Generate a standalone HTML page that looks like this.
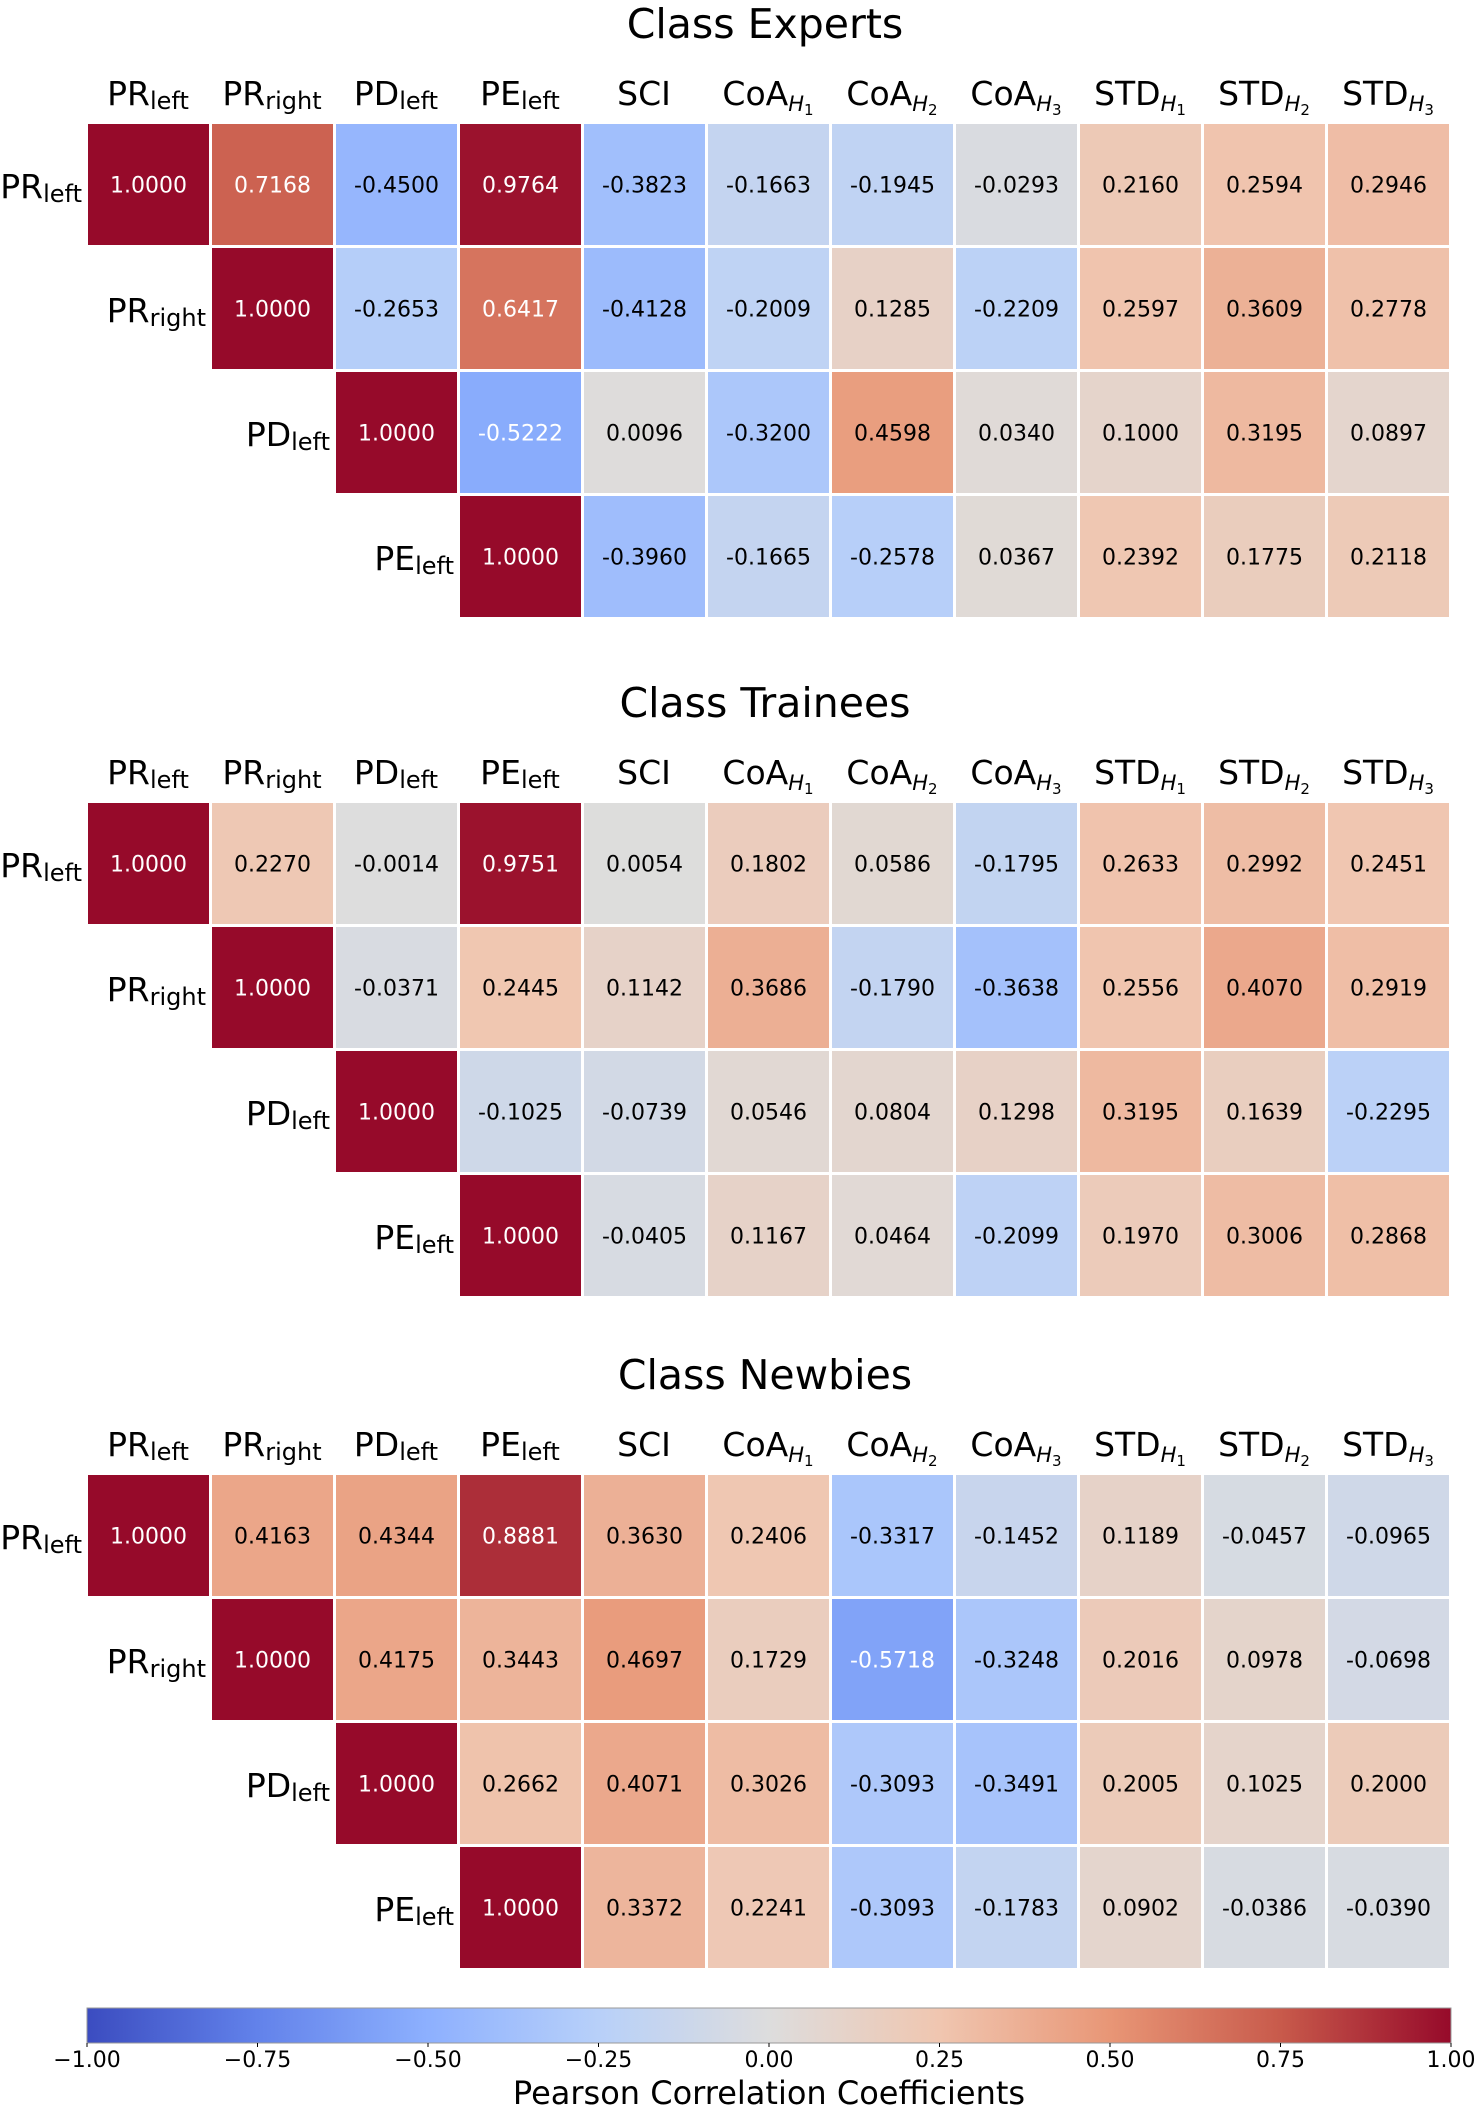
<!DOCTYPE html>
<html><head><meta charset="utf-8">
<style>
html,body{margin:0;padding:0;background:#fff;}
svg{display:block;font-family:"DejaVu Sans","Liberation Sans",sans-serif;}
</style></head>
<body>
<svg id="chart" width="1479" height="2110" viewBox="0 0 1479 2110" xmlns="http://www.w3.org/2000/svg">
<defs><linearGradient id="cbgrad" x1="0" y1="0" x2="1" y2="0"></linearGradient></defs>
</svg>
<script>
const titles = ["Class Experts","Class Trainees","Class Newbies"];
const colBase = ["PR","PR","PD","PE","SCI","CoA","CoA","CoA","STD","STD","STD"];
const colSub = ["left","right","left","left","","H","H","H","H","H","H"];
const colSubNum = ["","","","","","1","2","3","1","2","3"];
const rowBase = ["PR","PR","PD","PE"];
const rowSub = ["left","right","left","left"];
const expertsVals = [
 [1.0000,0.7168,-0.4500,0.9764,-0.3823,-0.1663,-0.1945,-0.0293,0.2160,0.2594,0.2946],
 [1.0000,-0.2653,0.6417,-0.4128,-0.2009,0.1285,-0.2209,0.2597,0.3609,0.2778],
 [1.0000,-0.5222,0.0096,-0.3200,0.4598,0.0340,0.1000,0.3195,0.0897],
 [1.0000,-0.3960,-0.1665,-0.2578,0.0367,0.2392,0.1775,0.2118]];
const traineesVals = [
 [1.0000,0.2270,-0.0014,0.9751,0.0054,0.1802,0.0586,-0.1795,0.2633,0.2992,0.2451],
 [1.0000,-0.0371,0.2445,0.1142,0.3686,-0.1790,-0.3638,0.2556,0.4070,0.2919],
 [1.0000,-0.1025,-0.0739,0.0546,0.0804,0.1298,0.3195,0.1639,-0.2295],
 [1.0000,-0.0405,0.1167,0.0464,-0.2099,0.1970,0.3006,0.2868]];
const newbiesVals = [
 [1.0000,0.4163,0.4344,0.8881,0.3630,0.2406,-0.3317,-0.1452,0.1189,-0.0457,-0.0965],
 [1.0000,0.4175,0.3443,0.4697,0.1729,-0.5718,-0.3248,0.2016,0.0978,-0.0698],
 [1.0000,0.2662,0.4071,0.3026,-0.3093,-0.3491,0.2005,0.1025,0.2000],
 [1.0000,0.3372,0.2241,-0.3093,-0.1783,0.0902,-0.0386,-0.0390]];
const panels = [expertsVals, traineesVals, newbiesVals];
const cbTicks = [-1.00,-0.75,-0.50,-0.25,0.00,0.25,0.50,0.75,1.00];

const NS="http://www.w3.org/2000/svg";
const svg=document.getElementById('chart');
function mk(t,a,p){const e=document.createElementNS(NS,t);for(const k in a)e.setAttribute(k,a[k]);(p||svg).appendChild(e);return e;}
const anchors=[[-1,[59,76,192]],[-0.75,[98,130,234]],[-0.5,[141,176,254]],[-0.25,[184,208,249]],[0,[221,221,221]],[0.25,[240,198,176]],[0.5,[232,150,118]],[0.75,[200,90,75]],[1,[150,10,42]]];
function cmap(v){v=Math.max(-1,Math.min(1,v));for(let i=0;i<anchors.length-1;i++){const[a,ca]=anchors[i],[b,cb]=anchors[i+1];if(v<=b){const t=(v-a)/(b-a);return 'rgb('+ca.map((c,j)=>Math.round(c+(cb[j]-c)*t)).join(',')+')';}}return 'rgb(150,10,42)';}
const X0=88,PITCH=124,GAP=3;
const xPos=c=>X0+PITCH*c;
const panelTop=[124,803,1475];
function label(g,x,y,base,sub,num,anchor){
  const t=mk('text',{x:x,y:y,'text-anchor':anchor,'font-size':33,fill:'#000'},g);
  const s1=mk('tspan',{},t);s1.textContent=base;
  if(sub==='H'){const s2=mk('tspan',{'font-size':21,'font-style':'italic',dy:6},t);s2.textContent='H';
    const s3=mk('tspan',{'font-size':15,dy:4},t);s3.textContent=num;}
  else if(sub){const s2=mk('tspan',{'font-size':24,dy:4},t);s2.textContent=sub;}
  return t;
}
panels.forEach((vals,p)=>{
  const top=panelTop[p];
  const g=mk('g',{});
  
  
  const tt=mk('text',{x:765,y:top-86,'text-anchor':'middle','font-size':41,fill:'#000'},g);
  tt.textContent=titles[p];
  
  
  colBase.forEach((b,c)=>{
    const l=label(g,xPos(c)+PITCH/2-2,top-19,b,colSub[c],colSubNum[c],'middle');
    
    
  });
  vals.forEach((row,r)=>{
    const l=label(g,xPos(r)-6,top+PITCH*r+PITCH/2+12,rowBase[r],rowSub[r],'','end');
    
    
    row.forEach((v,k)=>{
      const c=r+k;
      const x=xPos(c),y=top+PITCH*r;
      const rc=mk('rect',{x:x,y:y,width:PITCH-GAP,height:PITCH-GAP,fill:cmap(v)},g);
      
      
      const t=mk('text',{x:x+(PITCH-GAP)/2,y:y+(PITCH-GAP)/2+8,'text-anchor':'middle','font-size':22,fill:Math.abs(v)>0.5?'#fff':'#000'},g);
      t.textContent=v.toFixed(4);
      
      
    });
  });
});
// colorbar
const grad=document.getElementById('cbgrad');
for(let i=0;i<=40;i++){const v=-1+2*i/40;mk('stop',{offset:(i/40),'stop-color':cmap(v)},grad);}
const CB0=87,CB1=1451,CBY=2008,CBH=35;
const cbX=v=>CB0+(v+1)/2*(CB1-CB0);
const cb=mk('rect',{x:CB0,y:CBY,width:CB1-CB0,height:CBH,fill:'url(#cbgrad)',stroke:'#999','stroke-width':1});


cbTicks.forEach(v=>{
  mk('line',{x1:cbX(v),x2:cbX(v),y1:CBY+CBH,y2:CBY+CBH+4,stroke:'#000','stroke-width':1});
  const t=mk('text',{x:cbX(v),y:2067,'text-anchor':'middle','font-size':22,fill:'#000'});
  t.textContent=(v<0?'\u2212':'')+Math.abs(v).toFixed(2);
  
  
});
const ct=mk('text',{x:769,y:2104,'text-anchor':'middle','font-size':32,fill:'#000'});
ct.textContent='Pearson Correlation Coefficients';


</script>
</body></html>
